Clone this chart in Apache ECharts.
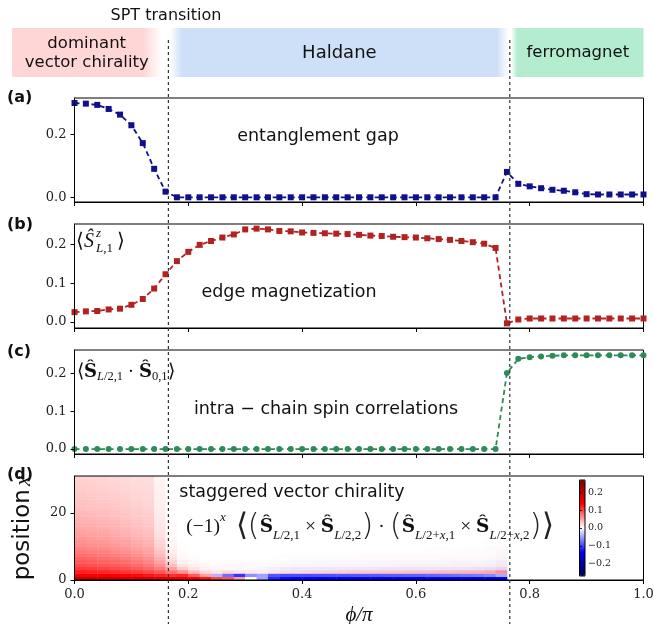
<!DOCTYPE html>
<html>
<head>
<meta charset="utf-8">
<script src="https://cdn.jsdelivr.net/npm/echarts@6.0.0/dist/echarts.min.js"></script>
<style>html,body{margin:0;padding:0;background:#fff;}#chart{width:654px;height:624px;}</style>
</head>
<body>
<div id="chart"></div>
<script>
// ---------------- data ----------------
const phi = [0.00,0.02,0.04,0.06,0.08,0.10,0.12,0.14,0.16,0.18,0.20,0.22,0.24,0.26,0.28,0.30,0.32,0.34,0.36,0.38,0.40,0.42,0.44,0.46,0.48,0.50,0.52,0.54,0.56,0.58,0.60,0.62,0.64,0.66,0.68,0.70,0.72,0.74,0.76,0.78,0.80,0.82,0.84,0.86,0.88,0.90,0.92,0.94,0.96,0.98,1.00];

const entanglementGap = [0.301,0.299,0.295,0.282,0.264,0.230,0.173,0.091,0.018,
  0,0,0,0,0, 0,0,0,0,0, 0,0,0,0,0, 0,0,0,0,0, 0,0,0,0,0, 0,0,0,0,
  0.081,0.043,0.035,0.029,0.024,0.021,0.016,0.010,0.009,0.009,0.009,0.009,0.009];

const edgeMagnetization = [0.025,0.027,0.028,0.032,0.034,0.044,0.059,0.086,0.123,0.157,0.181,0.199,0.209,0.218,0.226,0.239,0.241,0.239,0.235,0.234,0.231,0.230,0.229,0.228,0.227,0.225,0.223,0.222,0.220,0.219,0.218,0.216,0.214,0.212,0.209,0.206,0.202,0.191,
  -0.004,0.006,0.0086,0.0086,0.0086,0.0086,0.0086,0.0086,0.0086,0.0086,0.0086,0.0086,0.0086];

const spinCorrelation = [0,0,0,0,0, 0,0,0,0,0, 0,0,0,0,0, 0,0,0,0,0, 0,0,0,0,0, 0,0,0,0,0, 0,0,0,0,0, 0,0,0,
  0.202,0.2395,0.244,0.2457,0.2475,0.249,0.249,0.249,0.249,0.249,0.249,0.249,0.249];

// heatmap cell edges
const heatPhiEdges = [0.00,0.02,0.04,0.06,0.08,0.10,0.12,0.14,0.16,0.18,0.20,0.22,0.24,0.26,0.28,0.30,0.32,0.34,0.36,0.38,0.40,0.42,0.44,0.46,0.48,0.50,0.52,0.54,0.56,0.58,0.60,0.62,0.64,0.66,0.68,0.70,0.72,0.74,0.76];
const positionEdges = [0,1,2,3,4,5,6,7,8,9,10,11,12,13,14,15,16,17,18,19,20,21,22,23,24,25,26,27,28,29,30,31];

// staggered vector chirality in units of 1e-3; one array per phi column, rows = position 0..30
const chiralityMilli = [
 [200,140,120,105,95,88,82,76,71,66,62,58,55,52,49,46,44,42,40,38,36,34,33,31,30,29,28,27,26,25,24],
 [200,140,118,103,93,86,80,74,69,64,60,56,53,50,47,45,43,41,39,37,35,33,32,30,29,28,27,26,25,24,23],
 [198,138,115,100,90,83,77,71,66,62,58,54,51,48,45,43,41,39,37,35,34,32,31,29,28,27,26,25,24,23,23],
 [195,136,112,97,87,80,74,68,63,59,55,51,48,45,43,41,39,37,35,33,32,30,29,28,27,26,25,24,23,22,21],
 [192,134,108,93,83,76,70,64,59,55,51,48,45,42,40,38,36,34,32,31,29,28,27,26,25,24,23,22,21,20,20],
 [188,130,103,88,78,71,65,59,54,50,47,44,41,38,36,34,32,31,29,28,27,26,25,24,23,22,21,20,19,19,18],
 [182,125,97,81,71,64,58,53,49,45,42,39,37,35,33,31,30,28,27,26,25,24,23,22,21,21,20,19,19,18,18],
 [175,118,88,70,58,49,42,36,31,27,24,21,19,17,15,14,13,12,11,10,10,9,9,8,8,8,7,7,7,6,6],
 [165,110,75,50,34,24,17,12,9,7,5,4,3,3,2,2,2,1,1,1,1,1,1,1,1,1,1,1,1,1,1],
 [160,115,60,28,14,8,5,3,2,1,1,1, 0,0,0,0,0, 0,0,0,0,0, 0,0,0,0,0, 0,0,0,0],
 [145,85,35,15,8,4,2,1, 0,0,0,0,0, 0,0,0,0,0, 0,0,0,0,0, 0,0,0,0,0, 0,0,0],
 [125,50,18,8,4,2,1, 0,0,0,0,0, 0,0,0,0,0, 0,0,0,0,0, 0,0,0,0,0, 0,0,0,0],
 [100,-40,14,4,3,1, 0,0,0,0,0, 0,0,0,0,0, 0,0,0,0,0, 0,0,0,0,0, 0,0,0,0,0],
 [90,-78,22,-3,5,-1,1, 0,0,0,0,0, 0,0,0,0,0, 0,0,0,0,0, 0,0,0,0,0, 0,0,0,0],
 [50,-108,15,-5,4,-2,1, 0,0,0,0,0, 0,0,0,0,0, 0,0,0,0,0, 0,0,0,0,0, 0,0,0,0],
 [0,-60,12,-4,3,-1, 0,0,0,0,0, 0,0,0,0,0, 0,0,0,0,0, 0,0,0,0,0, 0,0,0,0,0],
 [-50,-50,10,-5,3,-1, 0,0,0,0,0, 0,0,0,0,0, 0,0,0,0,0, 0,0,0,0,0, 0,0,0,0,0],
 [-115,-90,15,-8,4,-2,1, 0,0,0,0,0, 0,0,0,0,0, 0,0,0,0,0, 0,0,0,0,0, 0,0,0,0],
 [-130,-95,18,-10,5,-3,1,-1, 0,0,0,0,0, 0,0,0,0,0, 0,0,0,0,0, 0,0,0,0,0, 0,0,0],
 [-135,-95,20,-11,6,-3,2,-1, 0,0,0,0,0, 0,0,0,0,0, 0,0,0,0,0, 0,0,0,0,0, 0,0,0],
 [-138,-94,22,-11,6,-3,2,-1, 0,0,0,0,0, 0,0,0,0,0, 0,0,0,0,0, 0,0,0,0,0, 0,0,0],
 [-140,-93,24,-12,6,-4,2,-1, 0,0,0,0,0, 0,0,0,0,0, 0,0,0,0,0, 0,0,0,0,0, 0,0,0],
 [-142,-92,25,-12,7,-4,2,-1, 0,0,0,0,0, 0,0,0,0,0, 0,0,0,0,0, 0,0,0,0,0, 0,0,0],
 [-144,-91,26,-12,7,-4,2,-1, 0,0,0,0,0, 0,0,0,0,0, 0,0,0,0,0, 0,0,0,0,0, 0,0,0],
 [-146,-90,28,-12,7,-4,2,-1,1, 0,0,0,0,0, 0,0,0,0,0, 0,0,0,0,0, 0,0,0,0,0, 0,0],
 [-147,-89,29,-12,7,-4,3,-2,1, 0,0,0,0,0, 0,0,0,0,0, 0,0,0,0,0, 0,0,0,0,0, 0,0],
 [-148,-88,30,-12,7,-5,3,-2,1, 0,0,0,0,0, 0,0,0,0,0, 0,0,0,0,0, 0,0,0,0,0, 0,0],
 [-149,-87,31,-13,7,-5,3,-2,1, 0,0,0,0,0, 0,0,0,0,0, 0,0,0,0,0, 0,0,0,0,0, 0,0],
 [-150,-86,32,-13,8,-5,3,-2,1, 0,0,0,0,0, 0,0,0,0,0, 0,0,0,0,0, 0,0,0,0,0, 0,0],
 [-150,-84,33,-13,8,-5,3,-2,1, 0,0,0,0,0, 0,0,0,0,0, 0,0,0,0,0, 0,0,0,0,0, 0,0],
 [-151,-83,34,-13,8,-5,3,-2,1, 0,0,0,0,0, 0,0,0,0,0, 0,0,0,0,0, 0,0,0,0,0, 0,0],
 [-151,-81,35,-13,8,-5,3,-2,1,-1, 0,0,0,0,0, 0,0,0,0,0, 0,0,0,0,0, 0,0,0,0,0, 0],
 [-152,-79,36,-14,8,-5,4,-2,1,-1, 0,0,0,0,0, 0,0,0,0,0, 0,0,0,0,0, 0,0,0,0,0, 0],
 [-152,-76,38,-14,9,-6,4,-3,2,-1, 0,0,0,0,0, 0,0,0,0,0, 0,0,0,0,0, 0,0,0,0,0, 0],
 [-152,-73,40,-14,9,-6,4,-3,2,-1,1, 0,0,0,0,0, 0,0,0,0,0, 0,0,0,0,0, 0,0,0,0,0],
 [-151,-70,42,-15,9,-6,4,-3,2,-1,1, 0,0,0,0,0, 0,0,0,0,0, 0,0,0,0,0, 0,0,0,0,0],
 [-150,-63,46,-16,11,-7,5,-3,2,-2,1,-1, 0,0,0,0,0, 0,0,0,0,0, 0,0,0,0,0, 0,0,0,0],
 [-145,-45,60,-20,14,-10,7,-5,4,-3,2,-1,1, 0,0,0,0,0, 0,0,0,0,0, 0,0,0,0,0, 0,0,0]
];

const transitionPhi = [0.165, 0.765];
const phaseLabels = ['dominant\nvector chirality', 'Haldane', 'ferromagnet'];
const phaseFrom = [-0.11, 0.168, 0.769];
const phaseTo = [0.153, 0.763, 1.0];

const xTicks = [0, 0.2, 0.4, 0.6, 0.8, 1.0];
const gapTicks = [0, 0.2];
const magTicks = [0, 0.1, 0.2];
const corrTicks = [0, 0.1, 0.2];
const positionTicks = [0, 20];
const colorbarTicks = [-0.2, -0.1, 0, 0.1, 0.2];

// ---------------- styles ----------------
const SANS = 'DejaVu Sans';
const SERIF = 'Liberation Serif';
const TICKFONT = 'DejaVu Serif';
const C_GAP = '#10108a', C_MAG = '#b22222', C_CORR = '#2e8b57';
const bandStops = [
  [{offset:0,color:'rgb(255,214,214)'},{offset:0.88,color:'rgb(255,214,214)'},{offset:1,color:'rgba(255,214,214,0)'}],
  [{offset:0,color:'rgba(206,224,247,0)'},{offset:0.035,color:'rgb(206,224,247)'},{offset:0.965,color:'rgb(206,224,247)'},{offset:1,color:'rgba(206,224,247,0)'}],
  [{offset:0,color:'rgba(180,236,208,0.2)'},{offset:0.04,color:'rgb(180,236,208)'},{offset:1,color:'rgb(180,236,208)'}]
];

const chart = echarts.init(document.getElementById('chart'), null, {renderer:'canvas', width:654, height:624});

const L = 74.5, W = 569;
const gridBase = {show:true, borderColor:'#000', borderWidth:1, backgroundColor:'transparent', containLabel:false, outerBoundsMode:'none', z:3};
const grids = [
  Object.assign({}, gridBase, {left:L, top:98, width:W, height:104}),
  Object.assign({}, gridBase, {left:L, top:224, width:W, height:104}),
  Object.assign({}, gridBase, {left:L, top:350, width:W, height:104}),
  Object.assign({}, gridBase, {left:L, top:476, width:W, height:104}),
  Object.assign({}, gridBase, {left:579.5, top:480, width:5.5, height:96, z:10})
];

const fmt1 = v => (v < 0 ? '\u2212' : '') + Math.abs(v).toFixed(1);
const xAxes = [0,1,2,3].map(i => ({
  type:'value', gridIndex:i, min:0, max:1, interval:0.2,
  axisLine:{show:true, onZero:false, lineStyle:{color:'#000', width:1}},
  axisTick:{show:true, inside:false, length:4, customValues:xTicks, lineStyle:{color:'#000'}},
  axisLabel:{show:i===3, customValues:xTicks, margin:8, fontFamily:TICKFONT, fontSize:13, color:'#222', formatter:fmt1},
  splitLine:{show:false}, z:5
}));
xAxes[3].name = '\u03d5/\u03c0';
xAxes[3].nameLocation = 'middle';
xAxes[3].nameGap = 25;
xAxes[3].nameTextStyle = {fontFamily:SERIF, fontStyle:'italic', fontSize:21, color:'#111'};
xAxes.push({type:'value', gridIndex:4, min:0, max:1, show:false});

function yAx(i, min, max, ticks, f) {
  return {type:'value', gridIndex:i, min:min, max:max,
    axisLine:{show:true, onZero:false, lineStyle:{color:'#000', width:1}},
    axisTick:{show:true, inside:false, length:4, customValues:ticks, lineStyle:{color:'#000'}},
    axisLabel:{customValues:ticks, margin:8, fontFamily:TICKFONT, fontSize:13, color:'#222', formatter:f},
    splitLine:{show:false}, z:5};
}
const yAxes = [
  yAx(0, -0.015, 0.317, gapTicks, fmt1),
  yAx(1, -0.016, 0.253, magTicks, fmt1),
  yAx(2, -0.013, 0.263, corrTicks, fmt1),
  yAx(3, 0, 31, positionTicks, v => String(v)),
  {type:'value', gridIndex:4, min:-0.27, max:0.27, position:'right',
   axisLine:{show:false}, splitLine:{show:false},
   axisTick:{show:true, inside:false, length:2.5, customValues:colorbarTicks, lineStyle:{color:'#000', width:0.8}},
   axisLabel:{customValues:colorbarTicks, margin:3, fontFamily:TICKFONT, fontSize:9.5, color:'#222', formatter:fmt1}, z:11}
];
yAxes[3].name = '{s|position} {m|x}';
yAxes[3].nameLocation = 'middle';
yAxes[3].nameGap = 38;
yAxes[3].nameRotate = 90;
yAxes[3].nameTextStyle = {rich:{s:{fontFamily:SANS, fontSize:23, lineHeight:26, verticalAlign:'middle', color:'#111'}, m:{fontFamily:SERIF, fontStyle:'italic', fontSize:23, lineHeight:26, verticalAlign:'middle', color:'#111'}}};

function lineSeries(idx, values, color, symbol) {
  return {type:'line', xAxisIndex:idx, yAxisIndex:idx, data: phi.map((p,i)=>[p, values[i]]),
    symbol:symbol, symbolSize:6, showSymbol:true, showAllSymbol:true, clip:false, silent:true,
    lineStyle:{color:color, width:1.8, type:[5,3.5]}, itemStyle:{color:color, borderWidth:0}, z:4, animation:false};
}

const heatData = [];
chiralityMilli.forEach((col, i) => col.forEach((v, r) => {
  heatData.push([heatPhiEdges[i], heatPhiEdges[i+1], positionEdges[r], positionEdges[r+1], v/1000]);
}));

const option = {
  animation:false,
  backgroundColor:'#fff',
  grid: grids,
  xAxis: xAxes,
  yAxis: yAxes,
  visualMap: [{
    type:'continuous', seriesIndex:3, dimension:4, min:-0.27, max:0.27,
    calculable:false, realtime:false, hoverLink:false, orient:'vertical',
    left:579.5, top:480, itemWidth:5.5, itemHeight:96, padding:0, text:null, show:true,
    inRange:{color:['#00004d','#0000ff','#ffffff','#ff0000','#800000']}, z:4
  }],
  series: [
    lineSeries(0, entanglementGap, C_GAP, 'rect'),
    lineSeries(1, edgeMagnetization, C_MAG, 'rect'),
    lineSeries(2, spinCorrelation, C_CORR, 'circle'),
    {type:'custom', xAxisIndex:3, yAxisIndex:3, data:heatData, encode:{x:[0,1], y:[2,3]},
     clip:true, silent:true, z:2,
     renderItem:(params, api) => {
       const a = api.coord([api.value(0), api.value(2)]);
       const b = api.coord([api.value(1), api.value(3)]);
       return {type:'rect', shape:{x:a[0], y:b[1], width:b[0]-a[0]+0.4, height:a[1]-b[1]+0.4},
               style:{fill:api.visual('color'), stroke:null}};
     }}
  ]
};
chart.setOption(option);

// ---------------- annotations ----------------
const px = v => chart.convertToPixel({xAxisIndex:0}, v);
const gfx = [];
phaseLabels.forEach((name, k) => {
  const x0 = px(phaseFrom[k]), x1 = px(phaseTo[k]);
  gfx.push({type:'rect', silent:true, z:1, shape:{x:x0, y:28, width:x1-x0, height:49},
    style:{fill:new echarts.graphic.LinearGradient(0,0,1,0,bandStops[k])}});
  gfx.push({type:'text', silent:true, z:2, x:(x0+x1)/2, y:53,
    style:{text:name, align:'center', verticalAlign:'middle', fontFamily:SANS, fontSize:k===1?18:16.5, lineHeight:19, fill:'#111'}});
});
transitionPhi.forEach(t => {
  const x = px(t);
  gfx.push({type:'line', silent:true, z:100, shape:{x1:x, y1:40, x2:x, y2:624},
    style:{stroke:'#333', lineWidth:1.2, lineDash:[3,3]}});
});
function txt(x, y, text, extra) {
  gfx.push({type:'text', silent:true, z:50, x:x, y:y,
    style:Object.assign({text:text, align:'left', verticalAlign:'middle', fontFamily:SANS, fontSize:17, fill:'#111'}, extra||{})});
}
txt(166, 16, 'SPT transition', {align:'center', fontSize:16});
txt(7, 98, '(a)', {fontWeight:'bold', fontSize:16});
txt(7, 225, '(b)', {fontWeight:'bold', fontSize:16});
txt(7, 352, '(c)', {fontWeight:'bold', fontSize:16});
txt(7, 475, '(d)', {fontWeight:'bold', fontSize:16});
txt(318, 136, 'entanglement gap', {align:'center', fontSize:17.5});
txt(289, 292, 'edge magnetization', {align:'center', fontSize:17.5});
txt(326, 409, 'intra \u2212 chain spin correlations', {align:'center', fontSize:17.5});
txt(292, 492, 'staggered vector chirality', {align:'center', fontSize:17.5});

// (b) <S^z_{L,1}>
txt(76, 242, '\u27e8', {fontFamily:SERIF, fontSize:20});
txt(84, 242, '\u015c', {fontFamily:SERIF, fontStyle:'italic', fontSize:20});
txt(96, 234, 'z', {fontFamily:SERIF, fontStyle:'italic', fontSize:13});
txt(96, 249, '{i|L}{n|,1}', {rich:{i:{fontFamily:SERIF, fontStyle:'italic', fontSize:13, fill:'#111'}, n:{fontFamily:SERIF, fontSize:13, fill:'#111'}}});
txt(117, 242, '\u27e9', {fontFamily:SERIF, fontSize:20});

// rich math styles
const BIGFONT = "'DejaVu Sans ExtraLight', 'DejaVu Sans'";
function mathRich(main, sub, big) {
  return {
    n:{fontFamily:SERIF, fontSize:main, lineHeight:big, verticalAlign:'middle', fill:'#111'},
    b:{fontFamily:'DejaVu Serif', fontWeight:'bold', fontSize:main-1, lineHeight:big, verticalAlign:'middle', fill:'#111'},
    s:{fontFamily:SERIF, fontSize:sub, lineHeight:sub+2, verticalAlign:'bottom', fill:'#111'},
    si:{fontFamily:SERIF, fontStyle:'italic', fontSize:sub, lineHeight:sub+2, verticalAlign:'bottom', fill:'#111'},
    pi:{fontFamily:SERIF, fontStyle:'italic', fontSize:sub, lineHeight:sub+2, verticalAlign:'top', fill:'#111'},
    g:{fontFamily:BIGFONT, fontWeight:200, fontSize:big, lineHeight:big, verticalAlign:'middle', fill:'#222'}
  };
}
// (c)
txt(77, 372, '{n|\u27e8}{b|\u015c}{si|L}{s|/2,1}{n| \u00b7 }{b|\u015c}{s|0,1}{n|\u27e9}',
  {rich:mathRich(19, 12.5, 22)});
// (d) formula
txt(370, 527,
  '{n|(\u22121)}{pi|x}{n|  }{g|\u27e8}{g|(}{b|\u015c}{si|L}{s|/2,1}{n| \u00d7 }{b|\u015c}{si|L}{s|/2,2}{g|)}{n| \u00b7 }{g|(}{b|\u015c}{si|L}{s|/2+}{si|x}{s|,1}{n| \u00d7 }{b|\u015c}{si|L}{s|/2+}{si|x}{s|,2}{g|)}{g|\u27e9}',
  {align:'center', rich:mathRich(19.5, 13, 31)});

chart.setOption({graphic: gfx});
</script>
</body>
</html>
